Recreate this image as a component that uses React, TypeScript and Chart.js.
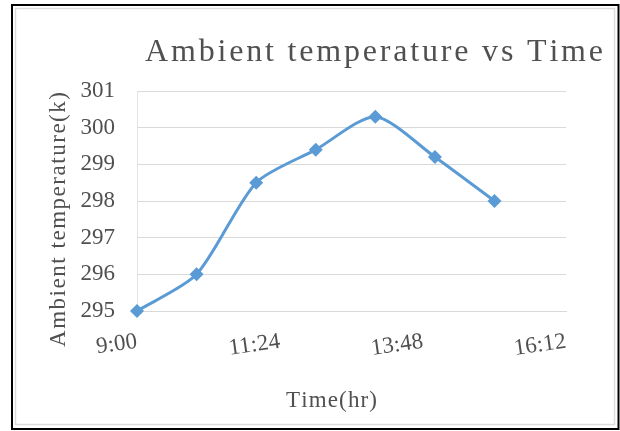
import React, { useEffect, useRef } from "react";
import { Chart, registerables } from "chart.js";

Chart.register(...registerables);

// ---- data ----
const timeLabels = ["9:00", "10:00", "11:00", "12:00", "13:00", "14:00", "15:00"];
const temperatures = [295, 296, 298.5, 299.4, 300.3, 299.2, 298];
const xAxisStart = "9:00";
const xAxisEnd = "16:12";
const xAxisStepMinutes = 144;
const yAxisMin = 295;
const yAxisMax = 301;
const yAxisStep = 1;
const chartTitle = "Ambient temperature vs Time";
const xAxisTitle = "Time(hr)";
const yAxisTitle = "Ambient temperature(k)";

const FONT = "'Liberation Serif', 'Times New Roman', serif";
const TEXT = "#505050";
const BLUE = "#5b9bd5";
const GRID = "#d9d9d9";

function toMinutes(s: string): number {
  const [h, m] = s.split(":").map(Number);
  return h * 60 + m;
}
function fmtTime(min: number): string {
  const h = Math.floor(min / 60);
  const m = Math.round(min - h * 60);
  return `${h}:${String(m).padStart(2, "0")}`;
}

function drawSpaced(ctx: CanvasRenderingContext2D, text: string, x: number, y: number, targetWidth: number) {
  const chars = Array.from(text);
  const widths = chars.map((c) => ctx.measureText(c).width);
  const natural = widths.reduce((a, b) => a + b, 0);
  const spacing = chars.length > 1 ? (targetWidth - natural) / (chars.length - 1) : 0;
  let cx = x;
  chars.forEach((c, i) => {
    ctx.fillText(c, cx, y);
    cx += widths[i] + spacing;
  });
}

const framePlugin = {
  id: "frameAndTitles",
  beforeDraw(chart: any) {
    const ctx: CanvasRenderingContext2D = chart.ctx;
    ctx.save();
    ctx.fillStyle = "#ffffff";
    ctx.fillRect(0, 0, chart.width, chart.height);
    ctx.strokeStyle = "#dcdcdc";
    ctx.lineWidth = 1.5;
    ctx.strokeRect(15.5, 8.5, 599, 416);
    ctx.strokeStyle = "#000000";
    ctx.lineWidth = 2;
    ctx.strokeRect(12, 5, 606.5, 424);
    ctx.restore();
  },
  afterDraw(chart: any) {
    const ctx: CanvasRenderingContext2D = chart.ctx;
    ctx.save();
    ctx.fillStyle = TEXT;
    ctx.textAlign = "left";
    ctx.textBaseline = "alphabetic";
    ctx.font = `32px ${FONT}`;
    drawSpaced(ctx, chartTitle, 145, 61, 458);
    ctx.font = `23px ${FONT}`;
    drawSpaced(ctx, xAxisTitle, 286, 407, 91);
    ctx.translate(65, 347);
    ctx.rotate(-Math.PI / 2);
    drawSpaced(ctx, yAxisTitle, 0, 0, 255);
    ctx.restore();
  },
};

export default function App() {
  const canvasRef = useRef<HTMLCanvasElement | null>(null);

  useEffect(() => {
    if (!canvasRef.current) return;
    const points = timeLabels.map((t, i) => ({ x: toMinutes(t), y: temperatures[i] }));
    const chart = new Chart(canvasRef.current, {
      type: "line",
      data: {
        datasets: [
          {
            data: points,
            borderColor: BLUE,
            backgroundColor: BLUE,
            borderWidth: 3,
            tension: 0.25,
            pointStyle: "rectRot",
            pointRadius: 7,
            pointBorderWidth: 0,
            pointBackgroundColor: BLUE,
            fill: false,
            clip: false,
          },
        ],
      },
      options: {
        animation: false,
        responsive: false,
        devicePixelRatio: 1,
        layout: { padding: { left: 0, right: 54, top: 91, bottom: 0 } },
        plugins: {
          legend: { display: false },
          title: { display: false },
          tooltip: { enabled: false },
        },
        scales: {
          x: {
            type: "linear",
            min: toMinutes(xAxisStart),
            max: toMinutes(xAxisEnd),
            afterFit: (scale: any) => {
              scale.height = 120;
            },
            afterBuildTicks: (scale: any) => {
              const ticks = [];
              for (let v = toMinutes(xAxisStart); v <= toMinutes(xAxisEnd); v += xAxisStepMinutes) {
                ticks.push({ value: v });
              }
              scale.ticks = ticks;
            },
            ticks: {
              autoSkip: false,
              minRotation: 8,
              maxRotation: 8,
              padding: 17,
              color: TEXT,
              font: { family: FONT, size: 23 },
              callback: (v: any) => fmtTime(Number(v)),
            },
            grid: { display: false, drawTicks: false },
            border: { display: true, color: GRID, width: 1 },
          },
          y: {
            type: "linear",
            min: yAxisMin,
            max: yAxisMax,
            afterFit: (scale: any) => {
              scale.width = 137;
            },
            ticks: {
              stepSize: yAxisStep,
              padding: 22,
              color: TEXT,
              font: { family: FONT, size: 23 },
            },
            grid: { color: GRID, lineWidth: 1, drawTicks: false },
            border: { display: true, color: "#e3e3e3", width: 1 },
          },
        },
      },
      plugins: [framePlugin],
    } as any);
    return () => chart.destroy();
  }, []);

  return (
    <div style={{ position: "absolute", left: 0, top: 0, width: 620, height: 431 }}>
      <canvas ref={canvasRef} width={620} height={431} style={{ display: "block" }} />
    </div>
  );
}
